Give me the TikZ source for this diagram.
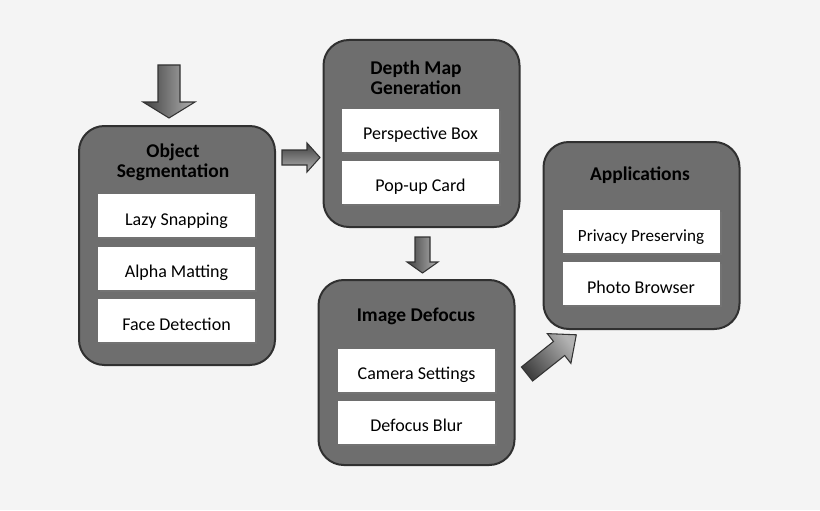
\documentclass[tikz,border=0pt]{standalone}
\usepackage{fontspec}
\setmainfont{Carlito}
\usetikzlibrary{shadows}
\definecolor{bg}{HTML}{F4F4F4}
\definecolor{boxgray}{HTML}{6E6E6E}
\definecolor{boxedge}{HTML}{303030}
\tikzset{
  bigbox/.style={draw=boxedge, line width=1.5pt, fill=boxgray, rounded corners=19pt, minimum width=147pt},
  item/.style={fill=white, minimum width=117.75pt, minimum height=32.25pt, inner sep=0pt,
    text height=14.5pt, text depth=0pt,
    font=\fontsize{13.5pt}{15pt}\selectfont,
    drop shadow={shadow xshift=1.5pt, shadow yshift=-1.5pt, fill=black!55, opacity=1}},
  title/.style={font=\fontsize{14.6pt}{15pt}\selectfont\bfseries, align=center, inner sep=0pt},
  blockarrow/.style={draw=black!80, line width=0.8pt, line join=miter, left color=black!75, right color=black!30}
}
\begin{document}
\begin{tikzpicture}[x=0.75pt, y=-0.75pt]
\fill[bg] (0,0) rectangle (820,510);
\useasboundingbox (0,0) rectangle (820,510);

% big boxes
\node[bigbox, minimum height=179.25pt] (seg) at (177,245.5) {};
\node[bigbox, minimum height=140.25pt] (depth) at (421.5,133.5) {};
\node[bigbox, minimum height=138.75pt] (defocus) at (416.5,372.5) {};
\node[bigbox, minimum height=140.25pt] (apps) at (641.5,235.5) {};

% titles
\node[title] (segt) at (173,162.5) {Object\\Segmentation};
\node[title] (deptht) at (416,78) {Depth Map\\Generation};
\node[title] (defocust) at (416,316.5) {Image Defocus};
\node[title] (appst) at (640,175.5) {Applications};

% items
\node[item] (lazy) at (176.5,215.5) {Lazy Snapping};
\node[item] (alpha) at (176.5,268) {Alpha Matting};
\node[item] (face) at (176.5,320.5) {Face Detection};
\node[item] (persp) at (420.5,130) {Perspective Box};
\node[item] (popup) at (420.5,182) {Pop-up Card};
\node[item] (camera) at (416.5,370) {Camera Settings};
\node[item] (blur) at (416.5,422) {Defocus Blur};
\node[item, font=\fontsize{12.8pt}{15pt}\selectfont] (privacy) at (641,231.5) {Privacy Preserving};
\node[item] (photo) at (641,283.5) {Photo Browser};

% block arrows
\draw[blockarrow] (158,65) -- (180,65) -- (180,102) -- (195,102) -- (169,118) -- (143,102) -- (158,102) -- cycle;
\draw[blockarrow, shading angle=0] (282,150) -- (307,150) -- (307,143) -- (320,157.5) -- (307,172) -- (307,165) -- (282,165) -- cycle;
\draw[blockarrow] (415,237) -- (430,237) -- (430,262) -- (438,262) -- (422.5,273) -- (407,262) -- (415,262) -- cycle;
\draw[blockarrow, shading angle=128] (521.4,367.0) -- (553.5,341.5) -- (547.3,333.6) -- (576.3,334.8) -- (570.9,363.4) -- (564.7,355.5) -- (532.6,381.0) -- cycle;
\end{tikzpicture}
\end{document}
